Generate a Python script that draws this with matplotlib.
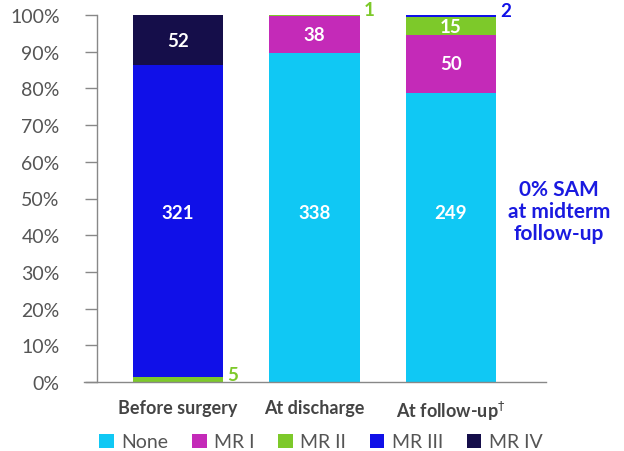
import numpy as np
import matplotlib
matplotlib.use('Agg')
import matplotlib.pyplot as plt

plt.rcParams['font.family'] = ['Lato', 'DejaVu Sans']

categories = ['Before surgery', 'At discharge', r'At follow-up$^{\dag}$']
grades = ['None', 'MR I', 'MR II', 'MR III', 'MR IV']
none = [0, 338, 249]
mr1 = [0, 38, 50]
mr2 = [5, 1, 15]
mr3 = [321, 0, 2]
mr4 = [52, 0, 0]
colors = ['#10c8f4', '#c42ab8', '#7dc92a', '#1010e8', '#150e4a']

counts = np.array([none, mr1, mr2, mr3, mr4], dtype=float)
totals = counts.sum(axis=0)
pct = counts / totals * 100

fig = plt.figure(figsize=(6.24, 4.52), dpi=100)
ax = fig.add_axes([84 / 624, 1 - 383 / 452, 462 / 624, 367 / 452])

x = np.arange(len(categories))
width = 0.66
bottom = np.zeros(len(categories))
for i, g in enumerate(grades):
    ax.bar(x, pct[i], width, bottom=bottom, color=colors[i], label=g, zorder=2)
    for j in range(len(categories)):
        n = counts[i, j]
        if n == 0:
            continue
        mid = bottom[j] + pct[i, j] / 2
        if pct[i, j] > 60:
            # the big segments all carry their label at the same height
            ax.text(x[j], 46.3, '%d' % n, ha='center', va='center', color='white',
                    fontsize=13.5, fontweight='bold')
        elif pct[i, j] >= 3:
            ax.text(x[j], mid, '%d' % n, ha='center', va='center', color='white',
                    fontsize=13.5, fontweight='bold')
        else:
            ax.text(x[j] + width / 2 + 0.03, mid + 1.5, '%d' % n, ha='left', va='center',
                    color=colors[i], fontsize=13.5, fontweight='bold')
    bottom += pct[i]

ax.set_xlim(-0.689, 2.696)
ax.set_ylim(0, 100)
ax.set_yticks(np.arange(0, 101, 10))
ax.set_yticklabels(['%d%%' % v for v in range(0, 101, 10)])
ax.set_xticks(x)
ax.set_xticklabels(categories, fontweight='bold')
ax.tick_params(axis='y', length=9, width=1, color='#888888', labelsize=14,
               labelcolor='#555555', pad=18)
ax.tick_params(axis='x', length=0, labelsize=13, labelcolor='#444444', pad=12)

for s in ['top', 'right']:
    ax.spines[s].set_visible(False)
ax.spines['left'].set_position(('data', -0.593))
ax.spines['left'].set_color('#888888')
ax.spines['bottom'].set_color('#888888')
ax.spines['left'].set_linewidth(1)
ax.spines['bottom'].set_linewidth(1)

fig.text(559 / 624, 1 - 212 / 452, '0% SAM\nat midterm\nfollow-up', ha='center', va='center',
         color='#1a1ae0', fontsize=15, fontweight='bold', linespacing=1.15)

handles, labels = ax.get_legend_handles_labels()
fig.legend(handles, labels, loc='center', bbox_to_anchor=(321 / 624, 1 - 443 / 452), ncol=5,
           frameon=False, handlelength=0.75, handleheight=0.75, handletextpad=0.4,
           columnspacing=1.2, fontsize=14, labelcolor='#555555')

fig.savefig('out.png', dpi=100)
